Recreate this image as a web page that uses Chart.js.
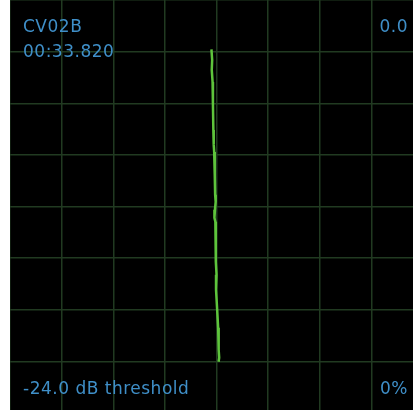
<!DOCTYPE html>
<html>
<head>
<meta charset="utf-8">
<script src="https://cdn.jsdelivr.net/npm/chart.js@4/dist/chart.umd.min.js"></script>
<style>
  html, body { margin: 0; padding: 0; background: #fff; overflow: hidden; width: 413px; height: 410px; }
  #wrap { position: absolute; left: 10px; top: 0; width: 413px; height: 413px; background: #000; }
</style>
</head>
<body>
<div id="wrap"><canvas id="scope" width="413" height="413"></canvas></div>
<script>
// trace samples: horizontal position (grid divisions) and time down the screen (divisions)
const traceX = [3.902, 3.916, 3.908, 3.924, 3.931, 3.939, 3.951, 3.941, 3.955, 3.966, 3.974, 3.984, 3.970, 3.960, 3.978, 3.985, 3.989, 4.001, 3.991, 4.013, 4.032, 4.048, 4.036, 4.052, 4.040]
const traceY = [0.958, 1.161, 1.355, 1.587, 2.032, 2.516, 2.671, 2.806, 2.942, 3.387, 3.774, 3.909, 4.064, 4.219, 4.297, 4.742, 5.071, 5.322, 5.613, 6.000, 6.348, 6.580, 6.774, 6.929, 7.006]

const channelName = 'CV02B'
const timestamp = '00:33.820'
const peakLabel = '0.0'
const thresholdLabel = '-24.0 dB threshold'
const levelLabel = '0%'

const divisions = 8

const textColor = '#3f8fc8'
const gridColor = '#213a21'

const labelsPlugin = {
  id: 'scopeLabels',
  afterDraw(chart) {
    const ctx = chart.ctx
    ctx.save()
    ctx.fillStyle = textColor
    ctx.font = '17px "DejaVu Sans", sans-serif'
    ctx.letterSpacing = '0.5px'
    ctx.textBaseline = 'alphabetic'
    ctx.textAlign = 'left'
    ctx.fillText(channelName, 13, 32)
    ctx.fillText(timestamp, 13, 57)
    ctx.fillText(thresholdLabel, 13, 394)
    ctx.textAlign = 'right'
    ctx.fillText(peakLabel, 398, 32)
    ctx.fillText(levelLabel, 398, 394)
    ctx.restore()
  }
}

const points = traceX.map((x, i) => ({ x: x, y: traceY[i] }))

new Chart(document.getElementById('scope').getContext('2d'), {
  type: 'scatter',
  data: {
    datasets: [{
      data: points,
      showLine: true,
      borderColor: '#5ec43c',
      borderWidth: 2.5,
      pointRadius: 0,
      tension: 0
    }]
  },
  options: {
    responsive: false,
    animation: false,
    layout: { padding: 0 },
    plugins: {
      legend: { display: false },
      tooltip: { enabled: false }
    },
    scales: {
      x: {
        type: 'linear',
        min: 0,
        max: divisions,
        ticks: { display: false, stepSize: 1 },
        grid: { color: gridColor, lineWidth: 1.5, drawTicks: false },
        border: { display: false }
      },
      y: {
        type: 'linear',
        min: 0,
        max: divisions,
        reverse: true,
        ticks: { display: false, stepSize: 1 },
        grid: { color: gridColor, lineWidth: 1.5, drawTicks: false },
        border: { display: false }
      }
    }
  },
  plugins: [labelsPlugin]
})
</script>
</body>
</html>
